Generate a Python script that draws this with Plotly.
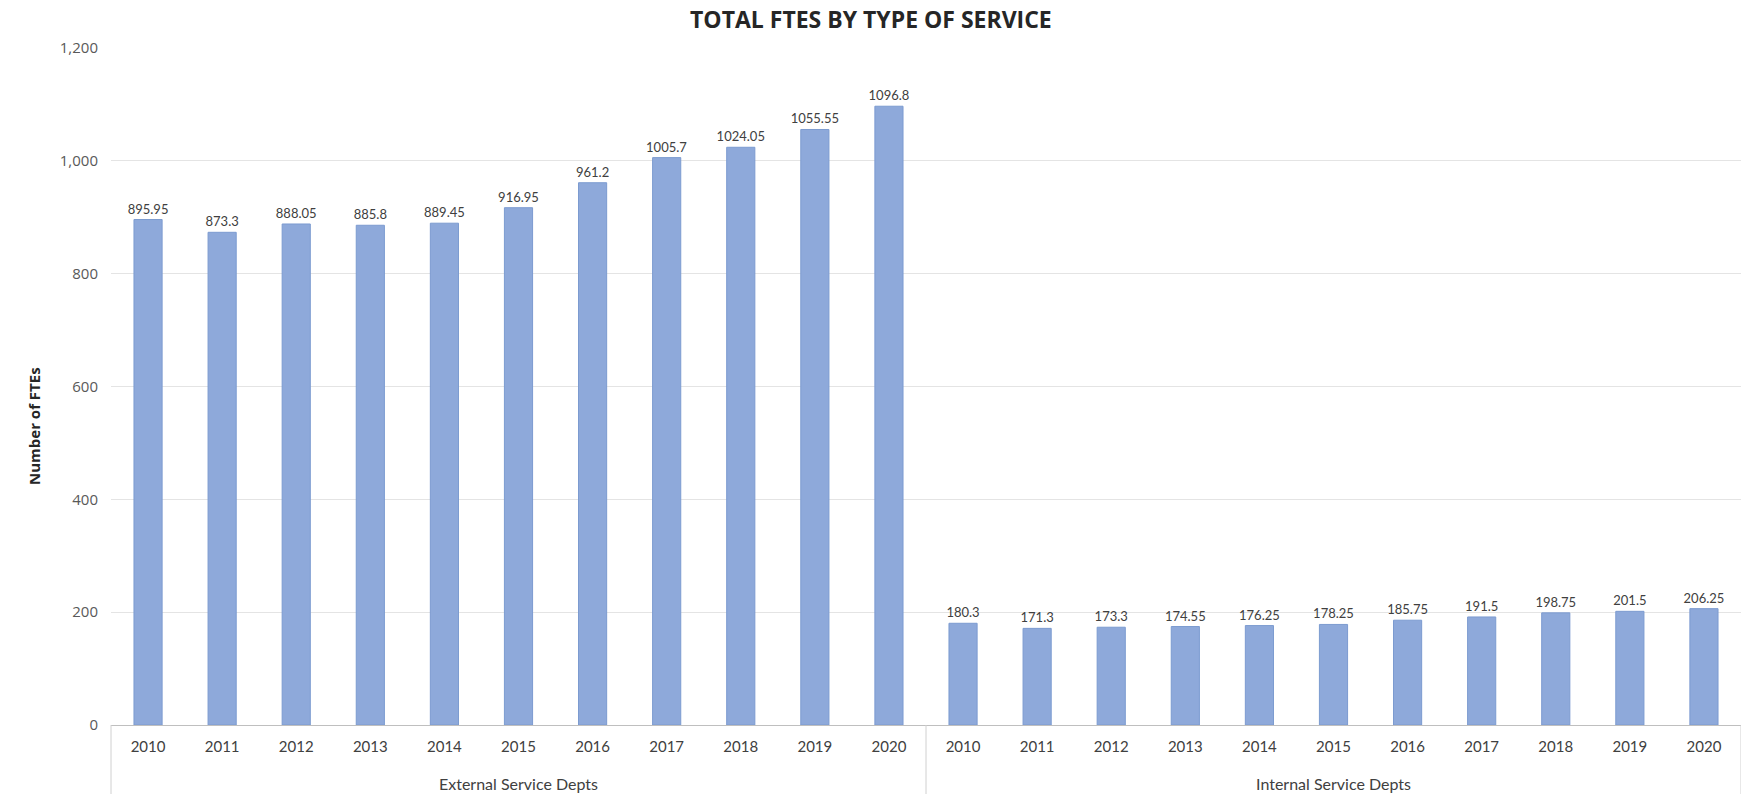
import plotly.graph_objects as go

# FTE counts per year for each type of service
years = ["2010", "2011", "2012", "2013", "2014", "2015",
         "2016", "2017", "2018", "2019", "2020"]
groups = ["External Service Depts", "Internal Service Depts"]
external_ftes = [895.95, 873.3, 888.05, 885.8, 889.45, 916.95,
                 961.2, 1005.7, 1024.05, 1055.55, 1096.8]
internal_ftes = [180.3, 171.3, 173.3, 174.55, 176.25, 178.25,
                 185.75, 191.5, 198.75, 201.5, 206.25]
y_ticks = [0, 200, 400, 600, 800, 1000, 1200]

BAR_FILL = "#8EA9DA"
BAR_EDGE = "#7C9BD0"
LABEL_FONT = dict(family="Lato, Open Sans, sans-serif", size=13, color="#404040")

fig = go.Figure()
for series, xaxis in ((external_ftes, "x"), (internal_ftes, "x2")):
    fig.add_trace(
        go.Bar(
            x=years,
            y=series,
            xaxis=xaxis,
            yaxis="y",
            text=[str(v) for v in series],
            textposition="outside",
            constraintext="none",
            textfont=LABEL_FONT,
            marker=dict(color=BAR_FILL, line=dict(color=BAR_EDGE, width=1)),
            cliponaxis=False,
            hoverinfo="x+y",
        )
    )

PLOT_H = 794 - 48 - 69

xaxis_common = dict(
    type="category",
    showline=True,
    linecolor="#BFBFBF",
    linewidth=1,
    ticks="",
    showgrid=False,
    ticklabelstandoff=8,
    tickfont=dict(family="Lato, Open Sans, sans-serif", size=15, color="#404040"),
    automargin=False,
)

fig.update_layout(
    width=1741,
    height=794,
    margin=dict(l=111, r=0, t=48, b=69),
    paper_bgcolor="white",
    plot_bgcolor="white",
    bargap=0.62,
    showlegend=False,
    font=dict(family="Lato, Open Sans, sans-serif", color="#404040"),
    xaxis=dict(
        domain=[0, 0.5], anchor="y",
        title=dict(text=groups[0], standoff=24,
                   font=dict(family="Lato, Open Sans, sans-serif", size=16, color="#404040")),
        **xaxis_common,
    ),
    xaxis2=dict(
        domain=[0.5, 1], anchor="y",
        title=dict(text=groups[1], standoff=24,
                   font=dict(family="Lato, Open Sans, sans-serif", size=16, color="#404040")),
        **xaxis_common,
    ),
    yaxis=dict(
        range=[0, 1200],
        tickvals=y_ticks,
        tickformat=",",
        showgrid=True,
        gridcolor="#E4E4E4",
        gridwidth=1,
        zeroline=False,
        showline=False,
        ticks="",
        ticklabelstandoff=12,
        tickfont=dict(family="Open Sans, sans-serif", size=15, color="#595959"),
        automargin=False,
    ),
)

# Category dividers below the axis: left edge, between groups, right edge
for xd in (0, 0.5, 1):
    fig.add_shape(
        type="line", xref="paper", yref="paper",
        x0=xd, x1=xd, y0=0, y1=-69 / PLOT_H,
        line=dict(color="#D0D0D0", width=1),
    )

# Chart title and y-axis title
fig.add_annotation(
    text="<b>TOTAL FTES BY TYPE OF SERVICE</b>",
    xref="paper", yref="paper", x=0.466, y=1, yshift=29,
    xanchor="center", yanchor="middle", showarrow=False,
    font=dict(family="Open Sans, sans-serif", size=23, color="#262626"),
)
fig.add_annotation(
    text="<b>Number of FTEs</b>",
    xref="paper", yref="paper", x=0, xshift=-77, y=(794 - 69 - 426) / PLOT_H,
    xanchor="center", yanchor="middle", textangle=-90, showarrow=False,
    font=dict(family="Open Sans, sans-serif", size=15, color="#262626"),
)

fig.write_html("out.html")
